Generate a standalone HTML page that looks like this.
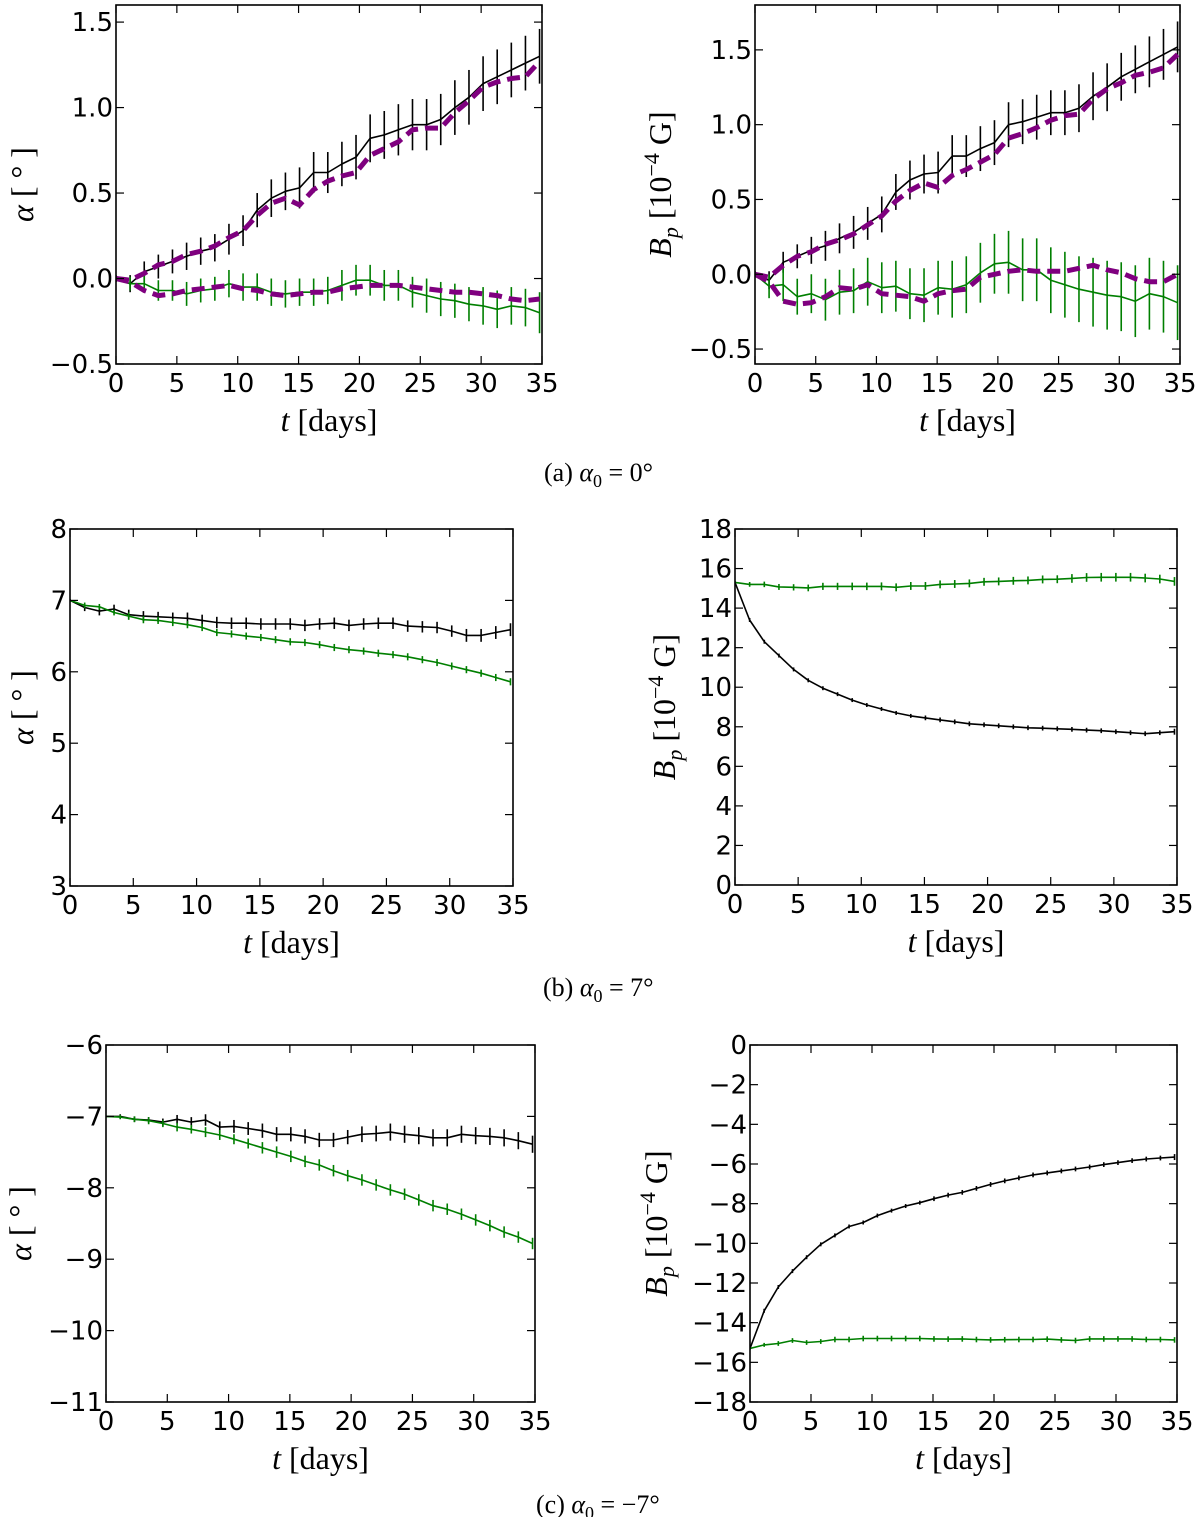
<!DOCTYPE html>
<html><head><meta charset="utf-8"><style>
body{margin:0;background:#fff;}
svg{display:block;}
.tick{font-family:"DejaVu Sans","Liberation Sans",sans-serif;font-size:26px;fill:#000;}
.lab{font-family:"Liberation Serif","DejaVu Serif",serif;font-size:32px;fill:#000;}
.cap{font-family:"Liberation Serif","DejaVu Serif",serif;font-size:26px;fill:#000;}
</style></head><body>
<svg id="fig" width="1200" height="1517" viewBox="0 0 1200 1517" xmlns="http://www.w3.org/2000/svg"></svg>
<script>
// shared time axis (days)
const tDays = [0,1.16,2.32,3.48,4.64,5.8,6.96,8.12,9.28,10.44,11.6,12.76,13.92,15.08,16.24,17.4,18.56,19.72,20.88,22.04,23.2,24.36,25.52,26.68,27.84,29,30.16,31.32,32.48,33.64,34.8];
const xTicks = [0,5,10,15,20,25,30,35];

// (a) alpha panel
const aAlphaBlack = [0,-0.03,0.04,0.07,0.10,0.13,0.16,0.18,0.23,0.28,0.40,0.47,0.51,0.53,0.62,0.62,0.67,0.71,0.82,0.84,0.87,0.90,0.90,0.93,1.00,1.06,1.14,1.18,1.22,1.26,1.30];
const aAlphaBlackErr = [0.02,0.05,0.06,0.07,0.07,0.08,0.08,0.08,0.09,0.09,0.10,0.11,0.11,0.12,0.12,0.12,0.13,0.13,0.14,0.14,0.15,0.15,0.15,0.15,0.16,0.16,0.16,0.16,0.16,0.16,0.16];
const aAlphaGreen = [0,-0.03,-0.03,-0.07,-0.07,-0.09,-0.07,-0.06,-0.03,-0.05,-0.05,-0.08,-0.09,-0.08,-0.08,-0.07,-0.04,-0.01,-0.01,-0.04,-0.04,-0.08,-0.10,-0.12,-0.13,-0.15,-0.16,-0.18,-0.16,-0.17,-0.20];
const aAlphaGreenErr = [0.01,0.04,0.05,0.06,0.06,0.07,0.07,0.07,0.08,0.08,0.08,0.08,0.08,0.08,0.08,0.08,0.09,0.09,0.09,0.09,0.09,0.09,0.10,0.10,0.10,0.10,0.11,0.11,0.11,0.11,0.12];
const aAlphaPurpleUp = [0,-0.01,0.03,0.08,0.10,0.14,0.16,0.19,0.24,0.28,0.37,0.44,0.47,0.43,0.52,0.57,0.60,0.62,0.72,0.76,0.80,0.87,0.88,0.88,0.97,1.04,1.12,1.15,1.17,1.18,1.27];
const aAlphaPurpleLow = [0,-0.02,-0.07,-0.10,-0.09,-0.07,-0.06,-0.05,-0.04,-0.06,-0.07,-0.09,-0.10,-0.09,-0.08,-0.08,-0.06,-0.05,-0.04,-0.04,-0.04,-0.05,-0.06,-0.07,-0.08,-0.08,-0.09,-0.10,-0.12,-0.13,-0.12];
const aAlphaYTicks = [-0.5,0.0,0.5,1.0,1.5];
const aAlphaYLabels = ["\u22120.5","0.0","0.5","1.0","1.5"];

// (a) Bp panel
const aBpBlack = [0,-0.04,0.08,0.12,0.16,0.19,0.24,0.28,0.34,0.40,0.55,0.63,0.67,0.68,0.79,0.79,0.84,0.88,1.00,1.02,1.05,1.08,1.08,1.11,1.19,1.25,1.32,1.37,1.42,1.47,1.52];
const aBpBlackErr = [0.02,0.06,0.07,0.08,0.09,0.10,0.10,0.11,0.11,0.12,0.12,0.13,0.13,0.14,0.14,0.14,0.15,0.15,0.15,0.15,0.15,0.15,0.15,0.16,0.16,0.16,0.16,0.16,0.17,0.17,0.17];
const aBpGreen = [0,-0.08,-0.07,-0.15,-0.13,-0.17,-0.12,-0.11,-0.05,-0.09,-0.08,-0.13,-0.14,-0.09,-0.10,-0.07,0.01,0.07,0.08,0.03,0.03,-0.04,-0.07,-0.10,-0.12,-0.14,-0.15,-0.18,-0.13,-0.15,-0.19];
const aBpGreenErr = [0.02,0.08,0.11,0.12,0.13,0.14,0.15,0.15,0.16,0.17,0.17,0.17,0.18,0.18,0.19,0.19,0.20,0.20,0.21,0.21,0.21,0.22,0.22,0.22,0.23,0.23,0.23,0.24,0.24,0.24,0.25];
const aBpPurpleUp = [0,-0.02,0.06,0.12,0.15,0.20,0.23,0.27,0.33,0.39,0.49,0.56,0.61,0.58,0.66,0.70,0.75,0.80,0.91,0.94,0.98,1.03,1.06,1.07,1.17,1.24,1.28,1.33,1.35,1.38,1.47];
const aBpPurpleLow = [0,-0.05,-0.18,-0.20,-0.19,-0.15,-0.09,-0.10,-0.07,-0.13,-0.14,-0.15,-0.18,-0.13,-0.11,-0.10,-0.02,0.00,0.02,0.03,0.02,0.02,0.02,0.04,0.06,0.03,0.01,-0.03,-0.05,-0.05,0.00];
const aBpYTicks = [-0.5,0.0,0.5,1.0,1.5];
const aBpYLabels = ["\u22120.5","0.0","0.5","1.0","1.5"];

// (b) alpha panel
const bAlphaBlack = [7.0,6.90,6.85,6.88,6.80,6.78,6.77,6.76,6.75,6.72,6.69,6.68,6.68,6.67,6.67,6.67,6.65,6.67,6.68,6.65,6.67,6.68,6.68,6.64,6.63,6.62,6.57,6.51,6.51,6.55,6.59];
const bAlphaBlackErr = [0.02,0.05,0.06,0.06,0.07,0.07,0.07,0.07,0.08,0.08,0.08,0.08,0.08,0.08,0.08,0.08,0.08,0.08,0.08,0.08,0.08,0.08,0.08,0.08,0.08,0.08,0.08,0.09,0.09,0.09,0.09];
const bAlphaGreen = [7.0,6.93,6.91,6.83,6.78,6.73,6.72,6.69,6.66,6.62,6.55,6.53,6.50,6.48,6.45,6.42,6.41,6.38,6.34,6.31,6.29,6.26,6.24,6.21,6.17,6.13,6.08,6.03,5.98,5.92,5.86];
const bAlphaGreenErr = [0.01,0.04,0.04,0.04,0.05,0.05,0.05,0.05,0.05,0.05,0.05,0.05,0.05,0.05,0.05,0.05,0.05,0.05,0.05,0.05,0.05,0.05,0.05,0.05,0.05,0.05,0.05,0.05,0.05,0.05,0.05];
const bAlphaYTicks = [3,4,5,6,7,8];
const bAlphaYLabels = ["3","4","5","6","7","8"];

// (b) Bp panel
const bBpBlack = [15.3,13.4,12.3,11.6,10.9,10.35,9.95,9.65,9.35,9.1,8.9,8.7,8.55,8.45,8.35,8.25,8.15,8.1,8.05,8.0,7.95,7.93,7.9,7.87,7.83,7.8,7.75,7.7,7.65,7.7,7.75];
const bBpBlackErr = [0.05,0.1,0.1,0.1,0.1,0.1,0.1,0.1,0.1,0.1,0.1,0.1,0.1,0.12,0.12,0.12,0.12,0.12,0.12,0.12,0.12,0.12,0.12,0.12,0.12,0.12,0.12,0.12,0.12,0.12,0.15];
const bBpGreen = [15.3,15.2,15.2,15.07,15.05,15.02,15.1,15.1,15.1,15.1,15.1,15.05,15.12,15.12,15.2,15.22,15.25,15.33,15.35,15.38,15.4,15.45,15.46,15.5,15.55,15.56,15.56,15.56,15.52,15.47,15.35];
const bBpGreenErr = [0.05,0.12,0.14,0.15,0.16,0.17,0.18,0.18,0.19,0.19,0.2,0.2,0.2,0.2,0.2,0.2,0.2,0.2,0.2,0.2,0.2,0.2,0.2,0.22,0.22,0.22,0.22,0.22,0.22,0.22,0.22];
const bBpYTicks = [0,2,4,6,8,10,12,14,16,18];
const bBpYLabels = ["0","2","4","6","8","10","12","14","16","18"];

// (c) alpha panel
const cAlphaBlack = [-7.0,-7.0,-7.04,-7.05,-7.08,-7.04,-7.08,-7.05,-7.15,-7.14,-7.17,-7.2,-7.25,-7.25,-7.28,-7.33,-7.33,-7.29,-7.25,-7.24,-7.22,-7.25,-7.27,-7.3,-7.3,-7.25,-7.27,-7.28,-7.3,-7.34,-7.39];
const cAlphaBlackErr = [0.01,0.03,0.04,0.04,0.05,0.06,0.07,0.08,0.08,0.09,0.09,0.10,0.10,0.10,0.10,0.10,0.10,0.10,0.11,0.11,0.12,0.12,0.12,0.12,0.12,0.12,0.12,0.12,0.12,0.12,0.12];
const cAlphaGreen = [-7.0,-7.01,-7.04,-7.06,-7.1,-7.15,-7.18,-7.22,-7.26,-7.32,-7.38,-7.44,-7.5,-7.56,-7.63,-7.68,-7.76,-7.83,-7.89,-7.96,-8.03,-8.09,-8.17,-8.25,-8.3,-8.37,-8.45,-8.53,-8.62,-8.69,-8.78];
const cAlphaGreenErr = [0.01,0.03,0.04,0.05,0.05,0.06,0.06,0.07,0.07,0.07,0.07,0.08,0.08,0.08,0.08,0.08,0.08,0.08,0.08,0.08,0.08,0.08,0.08,0.08,0.08,0.08,0.08,0.08,0.08,0.08,0.08];
const cAlphaYTicks = [-11,-10,-9,-8,-7,-6];
const cAlphaYLabels = ["\u221211","\u221210","\u22129","\u22128","\u22127","\u22126"];

// (c) Bp panel
const cBpBlack = [-15.3,-13.4,-12.2,-11.4,-10.7,-10.05,-9.6,-9.15,-8.95,-8.6,-8.35,-8.12,-7.95,-7.75,-7.57,-7.43,-7.23,-7.03,-6.85,-6.7,-6.55,-6.45,-6.35,-6.25,-6.15,-6.03,-5.93,-5.83,-5.75,-5.7,-5.65];
const cBpBlackErr = [0.05,0.1,0.1,0.1,0.1,0.1,0.1,0.1,0.1,0.1,0.1,0.1,0.1,0.12,0.12,0.12,0.12,0.12,0.12,0.12,0.12,0.12,0.12,0.12,0.12,0.12,0.12,0.12,0.12,0.12,0.15];
const cBpGreen = [-15.3,-15.12,-15.05,-14.9,-15.0,-14.95,-14.85,-14.85,-14.8,-14.8,-14.8,-14.8,-14.8,-14.82,-14.83,-14.82,-14.85,-14.87,-14.86,-14.85,-14.85,-14.83,-14.87,-14.9,-14.82,-14.82,-14.82,-14.82,-14.85,-14.85,-14.87];
const cBpGreenErr = [0.05,0.1,0.12,0.12,0.12,0.12,0.14,0.14,0.14,0.14,0.14,0.14,0.14,0.14,0.14,0.14,0.14,0.14,0.14,0.14,0.14,0.14,0.14,0.14,0.14,0.14,0.14,0.14,0.14,0.14,0.14];
const cBpYTicks = [-18,-16,-14,-12,-10,-8,-6,-4,-2,0];
const cBpYLabels = ["\u221218","\u221216","\u221214","\u221212","\u221210","\u22128","\u22126","\u22124","\u22122","0"];

const NS = "http://www.w3.org/2000/svg";
const fig = document.getElementById('fig');
function mk(tag, attrs, parent){
  const e = document.createElementNS(NS, tag);
  for (const k in attrs) e.setAttribute(k, attrs[k]);
  (parent||fig).appendChild(e);
  return e;
}

function panel(name, box, ymin, ymax, yTicks, yLabels, yLabelKind, ylabX, series){
  const g = mk('g', {});
  
  
  const sx = t => box.x0 + (t - 0) / 35 * (box.x1 - box.x0);
  const sy = v => box.y1 - (v - ymin) / (ymax - ymin) * (box.y1 - box.y0);
  const clip = 'clip-' + name;
  const cp = mk('clipPath', {id: clip}, g);
  mk('rect', {x: box.x0, y: box.y0, width: box.x1 - box.x0, height: box.y1 - box.y0}, cp);
  const plot = mk('g', {'clip-path': 'url(#' + clip + ')'}, g);
  
  
  series.forEach(s => {
    const sg = mk('g', {}, plot);
    
    
    if (s.err) {
      s.vals.forEach((v, i) => {
        const l = mk('line', {x1: sx(tDays[i]), x2: sx(tDays[i]), y1: sy(v - s.err[i]), y2: sy(v + s.err[i]), stroke: s.color, 'stroke-width': 1.6}, sg);
        
        
      });
    }
    const pts = s.vals.map((v, i) => sx(tDays[i]).toFixed(1) + ',' + sy(v).toFixed(1)).join(' ');
    const pl = mk('polyline', {points: pts, fill: 'none', stroke: s.color, 'stroke-width': s.width, 'stroke-dasharray': s.dash || 'none', 'stroke-linejoin': 'round'}, sg);
    
    
  });
  const fr = mk('rect', {x: box.x0, y: box.y0, width: box.x1 - box.x0, height: box.y1 - box.y0, fill: 'none', stroke: '#000', 'stroke-width': 1.6}, g);
  
  
  xTicks.forEach(t => {
    const x = sx(t);
    mk('line', {x1: x, x2: x, y1: box.y1, y2: box.y1 - 8, stroke: '#000', 'stroke-width': 1.2}, g);
    mk('line', {x1: x, x2: x, y1: box.y0, y2: box.y0 + 8, stroke: '#000', 'stroke-width': 1.2}, g);
    const tx = mk('text', {x: x, y: box.y1 + 28, 'text-anchor': 'middle', class: 'tick'}, g);
    tx.textContent = String(t);
    
    
  });
  yTicks.forEach((v, i) => {
    const y = sy(v);
    mk('line', {x1: box.x0, x2: box.x0 + 8, y1: y, y2: y, stroke: '#000', 'stroke-width': 1.2}, g);
    mk('line', {x1: box.x1, x2: box.x1 - 8, y1: y, y2: y, stroke: '#000', 'stroke-width': 1.2}, g);
    const ty = mk('text', {x: box.x0 - 3, y: y + 9, 'text-anchor': 'end', class: 'tick'}, g);
    ty.textContent = yLabels[i];
    
    
  });
  const xl = mk('text', {x: (box.x0 + box.x1) / 2, y: box.y1 + 67, 'text-anchor': 'middle', class: 'lab'}, g);
  
  
  const ti = mk('tspan', {'font-style': 'italic'}, xl); ti.textContent = 't';
  const td = mk('tspan', {}, xl); td.textContent = ' [days]';
  const cy = (box.y0 + box.y1) / 2;
  const yl = mk('text', {x: 0, y: 0, 'text-anchor': 'middle', class: 'lab', transform: 'translate(' + (ylabX + 10) + ',' + cy + ') rotate(-90)'}, g);
  
  
  if (yLabelKind === 'alpha') {
    const a = mk('tspan', {'font-style': 'italic'}, yl); a.textContent = 'α';
    const b = mk('tspan', {}, yl); b.textContent = ' [ ° ]';
  } else {
    const a = mk('tspan', {'font-style': 'italic'}, yl); a.textContent = 'B';
    const p = mk('tspan', {'font-style': 'italic', 'font-size': '22', dy: 7}, yl); p.textContent = 'p';
    const b = mk('tspan', {dy: -7}, yl); b.textContent = '  [10';
    const e = mk('tspan', {'font-size': '22', dy: -12}, yl); e.textContent = '−4';
    const c = mk('tspan', {dy: 12}, yl); c.textContent = ' G]';
  }
}

const BLACK = '#000', GREEN = '#007f00', PURPLE = '#7f007f';
panel('panel-a-alpha', {x0:116, x1:542, y0:5, y1:364}, -0.5, 1.6, aAlphaYTicks, aAlphaYLabels, 'alpha', 23, [
  {name:'black-series', vals:aAlphaBlack, err:aAlphaBlackErr, color:BLACK, width:1.6},
  {name:'green-series', vals:aAlphaGreen, err:aAlphaGreenErr, color:GREEN, width:1.6},
  {name:'purple-upper', vals:aAlphaPurpleUp, color:PURPLE, width:5, dash:'13 7'},
  {name:'purple-lower', vals:aAlphaPurpleLow, color:PURPLE, width:5, dash:'13 7'}
]);
panel('panel-a-bp', {x0:755, x1:1180, y0:5, y1:364}, -0.6, 1.8, aBpYTicks, aBpYLabels, 'bp', 661, [
  {name:'black-series', vals:aBpBlack, err:aBpBlackErr, color:BLACK, width:1.6},
  {name:'green-series', vals:aBpGreen, err:aBpGreenErr, color:GREEN, width:1.6},
  {name:'purple-upper', vals:aBpPurpleUp, color:PURPLE, width:5, dash:'13 7'},
  {name:'purple-lower', vals:aBpPurpleLow, color:PURPLE, width:5, dash:'13 7'}
]);
panel('panel-b-alpha', {x0:70, x1:513, y0:529, y1:886}, 3, 8, bAlphaYTicks, bAlphaYLabels, 'alpha', 23, [
  {name:'black-series', vals:bAlphaBlack, err:bAlphaBlackErr, color:BLACK, width:1.6},
  {name:'green-series', vals:bAlphaGreen, err:bAlphaGreenErr, color:GREEN, width:1.6}
]);
panel('panel-b-bp', {x0:735, x1:1177, y0:529, y1:885}, 0, 18, bBpYTicks, bBpYLabels, 'bp', 665, [
  {name:'black-series', vals:bBpBlack, err:bBpBlackErr, color:BLACK, width:1.6},
  {name:'green-series', vals:bBpGreen, err:bBpGreenErr, color:GREEN, width:1.6}
]);
panel('panel-c-alpha', {x0:106, x1:535, y0:1045, y1:1402}, -11, -6, cAlphaYTicks, cAlphaYLabels, 'alpha', 21, [
  {name:'black-series', vals:cAlphaBlack, err:cAlphaBlackErr, color:BLACK, width:1.6},
  {name:'green-series', vals:cAlphaGreen, err:cAlphaGreenErr, color:GREEN, width:1.6}
]);
panel('panel-c-bp', {x0:750, x1:1177, y0:1045, y1:1402}, -18, 0, cBpYTicks, cBpYLabels, 'bp', 657, [
  {name:'black-series', vals:cBpBlack, err:cBpBlackErr, color:BLACK, width:1.6},
  {name:'green-series', vals:cBpGreen, err:cBpGreenErr, color:GREEN, width:1.6}
]);

function caption(name, x, y, letter, val){
  const t = mk('text', {x: x, y: y, class: 'cap'});
  
  
  const a = mk('tspan', {}, t); a.textContent = '(' + letter + ')  ';
  const b = mk('tspan', {'font-style': 'italic'}, t); b.textContent = 'α';
  const c = mk('tspan', {'font-size': '18', dy: 6}, t); c.textContent = '0';
  const d = mk('tspan', {dy: -6}, t); d.textContent = ' = ' + val + '°';
}
caption('caption-a', 544, 481, 'a', '0');
caption('caption-b', 543, 996, 'b', '7');
caption('caption-c', 536, 1513, 'c', '−7');
</script>
</body></html>
